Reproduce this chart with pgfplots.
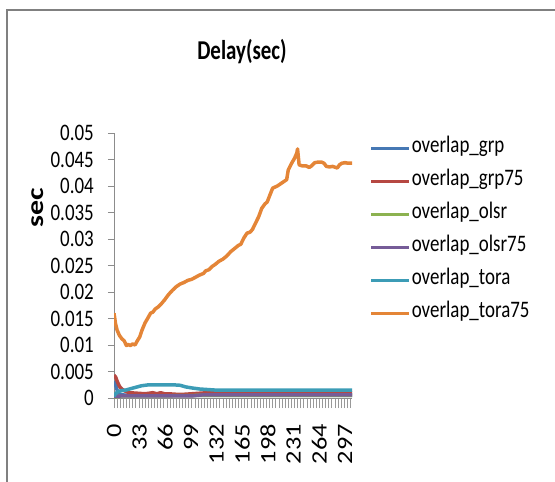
\documentclass[border=0pt]{standalone}
\usepackage{pgfplots}
\usepackage{pgfplotstable}
\pgfplotsset{compat=1.18}
\usepackage{fontspec}
\setmainfont{Carlito}

\definecolor{cgrp}{RGB}{70,120,180}
\definecolor{cgrpsf}{RGB}{182,72,66}
\definecolor{colsr}{RGB}{140,178,80}
\definecolor{colsrsf}{RGB}{118,92,152}
\definecolor{ctora}{RGB}{60,156,182}
\definecolor{ctorasf}{RGB}{228,133,55}

% tall text, as in the reference
\newcommand{\tall}[1]{\scalebox{1}[1.25]{#1}}

\pgfplotstableread{
x y
0 0.0032
2 0.0025
4 0.0015
6 0.0008
10 0.0006
20 0.0005
60 0.0005
120 0.0005
200 0.0005
306 0.0005
}\grp

\pgfplotstableread{
x y
0 0.0043
2 0.0040
4 0.0032
6 0.0025
8 0.0020
10 0.0017
13 0.0014
16 0.0012
20 0.0010
30 0.0009
40 0.0008
50 0.0010
55 0.0008
60 0.0010
65 0.0008
70 0.0008
80 0.0007
90 0.0007
100 0.0008
110 0.0009
120 0.0010
140 0.0010
200 0.0010
306 0.0010
}\grpsf

\pgfplotstableread{
x y
0 0.0002
10 0.0004
60 0.0004
120 0.0005
200 0.0005
306 0.0005
}\olsr

\pgfplotstableread{
x y
0 0.0003
10 0.0004
50 0.0004
100 0.0004
108 0.0005
115 0.0006
200 0.0006
306 0.0006
}\olsrsf

\pgfplotstableread{
x y
0 0.0003
2 0.0008
5 0.0012
10 0.0014
15 0.0015
20 0.0017
25 0.0019
30 0.0021
35 0.0023
40 0.0024
45 0.0025
60 0.0025
75 0.0025
85 0.0024
92 0.0021
100 0.0019
110 0.0017
120 0.0016
130 0.0015
145 0.0015
200 0.0015
306 0.0015
}\tora

\pgfplotstableread{
x y
0 0.0160
2 0.0140
4 0.0128
7 0.0118
10 0.0112
13 0.0108
16 0.0099
18 0.0101
21 0.0099
24 0.0102
27 0.0100
30 0.0108
33 0.0115
36 0.0128
40 0.0142
44 0.0152
47 0.0160
50 0.0162
53 0.0168
57 0.0172
61 0.0178
65 0.0185
70 0.0195
75 0.0203
80 0.0210
85 0.0215
90 0.0218
95 0.0222
100 0.0224
105 0.0228
110 0.0232
115 0.0235
118 0.0240
122 0.0242
126 0.0248
130 0.0252
135 0.0258
140 0.0262
145 0.0268
150 0.0276
155 0.0282
160 0.0288
163 0.0290
167 0.0302
171 0.0311
175 0.0313
178 0.0318
182 0.0330
186 0.0342
190 0.0358
194 0.0366
197 0.0370
201 0.0385
204 0.0396
207 0.0398
210 0.0400
214 0.0404
218 0.0408
222 0.0412
224 0.0430
228 0.0442
232 0.0452
235 0.0462
236 0.0470
238 0.0440
242 0.0438
247 0.0438
251 0.0435
254 0.0438
258 0.0444
262 0.0445
267 0.0445
270 0.0443
273 0.0437
277 0.0436
281 0.0437
285 0.0435
287 0.0434
290 0.0440
293 0.0443
297 0.0444
301 0.0443
306 0.0443
}\torasf

\begin{document}
\begin{tikzpicture}
\useasboundingbox (0bp,0bp) rectangle (555bp,-482bp);
\draw[black!50, line width=2bp] (7bp,-482bp) -- (7bp,-9.5bp) -- (555bp,-9.5bp);
\node[font=\fontsize{21}{25}\selectfont\bfseries] at (242bp,-52bp) {\scalebox{1}[1.3]{Delay(sec)}};
\begin{axis}[
    at={(114bp,-398bp)}, anchor=south west,
    scale only axis, width=238bp, height=265bp,
    xmin=0, xmax=306, ymin=0, ymax=0.05,
    axis x line*=bottom, axis y line*=left,
    axis line style={draw=black!45, line width=0.8bp},
    xtick={0,33,66,99,132,165,198,231,264,297},
    major x tick style={draw=none},
    minor xtick={0,4,...,304},
    minor tick length=10bp,
    minor x tick style={draw=black!40, line width=0.6bp},
    ytick={0,0.005,0.01,0.015,0.02,0.025,0.03,0.035,0.04,0.045,0.05},
    major tick length=6bp,
    y tick style={draw=black!45, line width=0.8bp},
    tick align=outside,
    scaled y ticks=false,
    /pgf/number format/assume math mode=true,
    yticklabel={\tall{\pgfmathprintnumber[fixed,precision=3]{\tick}}},
    y tick label style={font=\fontsize{19}{22}\selectfont, inner xsep=14bp},
    xticklabel={\scalebox{1.2}[1]{\pgfmathprintnumber{\tick}}},
    x tick label style={font=\fontsize{22}{25}\selectfont, rotate=90, anchor=east, inner xsep=20bp},
    ylabel={\scalebox{1.25}[1]{sec}},
    ylabel style={font=\fontsize{24}{28}\selectfont\bfseries, at={(axis description cs:-0.321,0.717)}, anchor=center},
    legend style={at={(1.072,0.979)}, anchor=north west, draw=none, fill=none,
        inner sep=0pt, row sep=14bp, font=\fontsize{19}{22}\selectfont,
        nodes={inner sep=1bp, text height=13bp, text depth=4bp}},
    legend cell align=left,
    legend image code/.code={\draw[#1] (0bp,0bp) -- (38bp,0bp);},
    every axis plot/.append style={line width=3.5bp, line join=round, no marks},
]
\addplot[cgrp] table[x=x, y=y] {\grp};
\addplot[cgrpsf] table[x=x, y=y] {\grpsf};
\addplot[colsr] table[x=x, y=y] {\olsr};
\addplot[colsrsf] table[x=x, y=y] {\olsrsf};
\addplot[ctora] table[x=x, y=y] {\tora};
\addplot[ctorasf] table[x=x, y=y] {\torasf};
\legend{\tall{overlap\_grp}, \tall{overlap\_grp75}, \tall{overlap\_olsr},
    \tall{overlap\_olsr75}, \tall{overlap\_tora}, \tall{overlap\_tora75}}
\end{axis}
\end{tikzpicture}
\end{document}
